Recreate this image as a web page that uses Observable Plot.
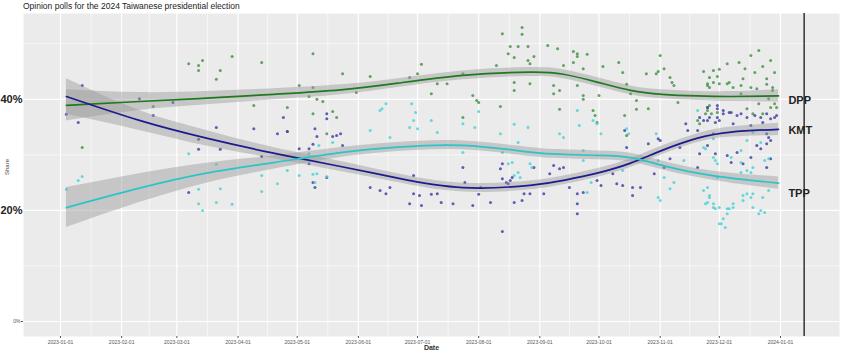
<!DOCTYPE html>
<html><head><meta charset="utf-8">
<script src="https://cdn.jsdelivr.net/npm/d3@7"></script>
<script src="https://cdn.jsdelivr.net/npm/@observablehq/plot@0.6"></script>
<style>
body{margin:0;background:#fff;font-family:"Liberation Sans",Arial,sans-serif}
#title{height:12px;line-height:12px;font-size:8.5px;padding-left:23px;color:#222;white-space:nowrap}
</style></head><body>
<div id="title">Opinion polls for the 2024 Taiwanese presidential election</div>
<div id="chart"></div>
<script>
// Days counted from 2023-01-01, share in percent
const startDate = "2023-01-01";
const electionDate = "2024-01-13";
const parties = ["DPP", "KMT", "TPP"];
const lineColors = ["#1F7A1F", "#1C1C8E", "#2BC4C8"];
const pointColors = ["#3E8E3E", "#3A3AA6", "#45D2D4"];
const monthTicks = ["2023-01-01","2023-02-01","2023-03-01","2023-04-01","2023-05-01","2023-06-01","2023-07-01","2023-08-01","2023-09-01","2023-10-01","2023-11-01","2023-12-01","2024-01-01"];
const yMajor = [0, 20, 40];
const yMinor = [10, 30, 50];

const dppPolls = [[65,46.4],[70,46.1],[72,47.0],[70,45.2],[81,45.2],[87,47.7],[79,43.6],[102,46.6],[128,48.2],[121,42.5],[128,42.1],[126,40.5],[130,40.0],[133,39.6],[115,38.5],[98,38.9],[128,37.4],[138,37.8],[140,36.7],[135,33.8],[11,31.3],[47,38.7],[115,34.2],
[143,44.6],[157,44.1],[150,41.2],[177,43.9],[181,44.6],[183,46.3],[188,41.0],[191,42.8],[196,42.8],[204,44.6],[209,40.7],[211,39.8],[212,39.4],[204,36.7],[223,38.7],[221,46.1],[224,51.8],[234,52.9],[234,51.7],[228,49.5],[232,49.5],[237,49.5],[227,48.2],[230,47.5],[237,47.0],[238,46.4],[240,47.7],[230,43.0],[230,41.6],[238,42.8],[247,49.7],[252,49.1],[255,46.1],[260,48.6],[262,48.2],[262,47.7],[267,48.1],[260,46.6],[265,45.5],[250,42.5],[253,41.6],[250,41.0],[262,42.5],[265,40.7],[265,40.0],[275,45.9],[273,40.7],[253,38.2],[270,38.0],[271,37.1],[272,35.8],[283,46.6],[285,44.8],[287,42.7],[289,41.0],[292,39.8],[292,38.2],[286,37.1],[287,33.5],[297,44.6],[302,44.6],[303,45.0],[306,45.5],[304,47.9],[309,43.9],[310,43.0],[311,42.5],[313,39.4],[298,38.3],[326,45.0],[329,43.9],[331,45.2],[333,44.1],[334,45.4],[338,46.4],[328,42.8],[329,42.1],[328,38.5],[328,38.0],[323,36.2],[324,35.6],[334,42.8],[339,43.0],
[328,42.5],[331,43.0],[338,42.8],[341,42.1],[345,42.5],[350,42.1],[353,41.9],[358,42.7],[361,42.1],[361,41.6],[359,40.1],[362,39.2],[360,38.5],[363,38.5],[354,39.2],[348,38.3],[351,37.4],[356,37.4],[345,41.0],[329,38.9],[327,37.4],[330,37.4],[333,37.6],
[344,46.6],[347,45.5],[350,47.9],[352,44.8],[356,45.9],[360,47.0],[362,44.8],[346,43.7],[354,48.8],[358,43.7]];

const kmtPolls = [[11,42.5],[3,37.3],[9,35.8],[40,40.1],[57,39.4],[47,37.1],[79,34.9],[70,32.8],[70,31.0],[81,31.0],[98,34.7],[113,36.7],[110,33.8],[115,34.2],[102,29.7],[121,31.1],[126,31.1],[128,31.9],[129,34.7],[130,33.3],[135,37.4],[135,36.5],[138,33.3],[126,28.4],[65,23.2],[128,25.0],[129,24.1],[135,25.9],
[142,33.8],[143,31.7],[140,33.5],[157,24.1],[162,23.6],[165,23.0],[167,24.1],[177,21.2],[179,23.0],[182,22.7],[188,22.9],[191,23.0],[193,21.4],[179,26.3],[183,20.9],[199,21.2],[204,27.7],[205,25.0],[209,20.9],[212,22.9],[213,24.1],[218,21.4],[223,27.5],[224,28.4],[224,25.7],[226,25.0],[227,24.8],[228,25.4],[229,25.9],[230,21.4],[234,21.8],[235,23.0],[238,23.0],[240,27.7],[245,23.0],[248,26.6],[250,28.1],[253,27.5],[255,27.7],[258,24.1],[262,23.0],[262,21.2],[265,23.2],[262,19.4],[272,25.4],[274,24.5],[280,26.6],[282,24.8],[285,24.5],[286,34.4],[287,31.3],[290,22.7],[290,24.1],[294,24.1],[298,32.0],[303,32.9],[304,32.6],[301,26.6],[306,27.7],[309,29.3],[314,31.3],[317,35.6],[318,34.4],[323,34.4],[324,36.7],[326,36.2],[328,36.2],[329,36.7],[332,35.8],[333,36.7],[336,37.4],[339,37.6],[333,38.9],[323,27.7],[324,30.2],[328,31.7],[332,30.2],[338,29.9],[224,16.2],
[328,38.5],[333,38.3],[336,38.0],[340,37.6],[343,37.1],[345,37.4],[348,36.7],[352,37.1],[355,36.7],[358,37.4],[360,36.5],[362,36.7],[363,37.1],[334,36.2],[341,35.6],[350,35.3],[356,35.8],[358,33.8],[359,33.1],[360,32.6],[358,32.0],[355,31.1],[360,29.3],[358,27.7],[350,29.5],[343,30.4],[340,28.6],[346,28.4],[353,31.7],[331,33.8]];

const tppPolls = [[3,23.8],[11,26.1],[9,25.4],[65,30.2],[79,28.3],[70,23.8],[81,23.9],[70,21.2],[79,21.4],[72,20.0],[87,21.1],[102,26.3],[102,23.4],[110,24.8],[115,27.2],[121,26.3],[126,30.2],[128,26.5],[130,26.6],[129,25.0],[131,31.7],[135,26.1],[138,32.2],
[157,34.4],[162,38.0],[163,38.3],[165,39.2],[167,33.1],[177,34.9],[178,39.2],[179,36.2],[180,37.6],[181,34.7],[188,36.2],[191,34.0],[204,35.6],[210,34.9],[212,37.8],[204,30.4],[223,33.8],[224,30.4],[227,28.4],[229,28.6],[230,26.3],[232,26.8],[233,25.9],[230,35.5],[237,34.9],[238,28.4],[239,27.7],[232,32.2],[253,33.8],[255,33.1],[262,38.0],[263,35.3],[265,30.8],[265,29.0],[267,23.2],[269,25.0],[270,36.2],[272,35.6],[274,33.8],[285,27.2],[287,34.7],[288,33.8],[302,33.8],[303,29.0],[304,21.8],[303,22.3],[306,25.9],[309,23.9],[311,25.0],[323,38.0],[326,31.3],[331,29.5],[333,28.4],[328,24.1],[329,22.7],[328,21.4],[331,21.2],[332,20.3],[334,20.5],[336,18.5],[335,17.6],[338,19.4],[339,20.3],[316,29.0],
[331,32.9],[327,31.1],[332,29.0],[340,29.5],[345,28.6],[351,27.7],[350,26.8],[357,29.0],[359,29.3],[355,32.2],[351,34.0],[348,32.6],[345,30.8],[326,23.6],[329,22.3],[327,21.2],[331,20.5],[338,20.3],[341,21.2],[346,22.7],[348,23.0],[350,22.3],[346,21.8],[351,20.5],[354,19.4],[355,20.0],[357,19.6],[334,17.6],[337,16.9],[341,20.5],[351,23.0],[356,22.3],[359,23.6],[333,25.9],[345,26.8],[348,27.2]];

// Smoothed trend and half-width of its band
const smoothDays = [3, 40, 74, 108, 142, 171, 204, 238, 255, 272, 289, 305, 323, 340, 364];
const dppSmooth = [38.9, 39.6, 40.2, 40.9, 41.7, 42.9, 44.3, 44.9, 44.5, 43.1, 41.6, 40.9, 40.6, 40.5, 40.6];
const kmtSmooth = [40.5, 36.2, 33.0, 30.3, 27.9, 25.8, 24.1, 24.5, 25.4, 26.7, 28.5, 30.8, 33.0, 34.1, 34.6];
const tppSmooth = [20.5, 24.0, 26.7, 28.6, 30.4, 31.4, 31.7, 30.5, 30.1, 29.9, 29.5, 28.1, 26.7, 25.8, 24.9];
const dppBand = [2.8, 1.6, 1.2, 1.0, 0.9, 0.8, 0.8, 0.8, 0.8, 0.8, 0.8, 0.8, 0.8, 0.9, 1.1];
const kmtBand = [3.2, 1.8, 1.4, 1.0, 0.9, 0.8, 0.8, 0.8, 0.8, 0.8, 0.8, 0.8, 0.8, 0.9, 1.1];
const tppBand = [3.6, 2.6, 1.8, 1.2, 0.9, 0.8, 0.8, 0.8, 0.8, 0.8, 0.8, 0.8, 0.8, 0.9, 1.1];

const labelDay = 369;
const labelShare = [39.8, 34.4, 23.0];

// ---- build tables ----
const t0 = new Date(startDate + "T00:00Z");
const toDate = d => d3.utcDay.offset(t0, d);
const pollSets = [dppPolls, kmtPolls, tppPolls];
const smoothSets = [dppSmooth, kmtSmooth, tppSmooth];
const bandSets = [dppBand, kmtBand, tppBand];

const points = pollSets.flatMap((set, i) => set.map(([d, v]) => ({party: parties[i], date: toDate(d), share: v})));
const smooth = smoothSets.flatMap((s, i) => s.map((v, j) => ({party: parties[i], date: toDate(smoothDays[j]), share: v, lo: v - bandSets[i][j], hi: v + bandSets[i][j]})));
const labels = parties.map((p, i) => ({party: p, date: toDate(labelDay), share: labelShare[i]}));

const tickDates = monthTicks.map(s => new Date(s + "T00:00Z"));
const minorX = d3.pairs(tickDates).map(([a, b]) => new Date((+a + +b) / 2));

const colorOf = p => pointColors[parties.indexOf(p)];
const lineOf = p => lineColors[parties.indexOf(p)];

const chart = Plot.plot({
  width: 844,
  height: 342,
  marginLeft: 23,
  marginRight: 5,
  marginTop: 1,
  marginBottom: 18,
  style: {fontFamily: "'Liberation Sans', Arial, sans-serif", background: "white"},
  x: {type: "utc", domain: [new Date("2022-12-13T06:00Z"), new Date("2024-01-30T22:00Z")]},
  y: {domain: [-2.7, 55.44]},
  marks: [
    Plot.frame({fill: "#EBEBEB", stroke: null}),
    Plot.ruleY(yMinor, {stroke: "white", strokeWidth: 0.6}),
    Plot.ruleX(minorX, {stroke: "white", strokeWidth: 0.6}),
    Plot.ruleY(yMajor, {stroke: "white", strokeWidth: 1.2}),
    Plot.ruleX(tickDates, {stroke: "white", strokeWidth: 1.2}),
    Plot.dot(points, {x: "date", y: "share", r: 1.5, fill: d => colorOf(d.party), fillOpacity: 0.8, stroke: null}),
    ...parties.map(p => Plot.areaY(smooth.filter(d => d.party === p), {x: "date", y1: "lo", y2: "hi", fill: "#999999", fillOpacity: 0.45, curve: "natural"})),
    ...parties.map(p => Plot.lineY(smooth.filter(d => d.party === p), {x: "date", y: "share", stroke: lineOf(p), strokeWidth: 1.7, curve: "natural"})),
    Plot.ruleX([new Date(electionDate + "T00:00Z")], {stroke: "#333", strokeWidth: 1.5}),
    Plot.text(labels, {x: "date", y: "share", text: "party", textAnchor: "start", fontSize: 11, fontWeight: "bold", fill: "#222"}),
    Plot.axisX({ticks: tickDates, tickFormat: d3.utcFormat("%Y-%m-%d"), tickSize: 2, tickPadding: 1.5, fontSize: 5, fill: "#555", stroke: "#555", label: null}),
    Plot.axisY({ticks: [0], tickFormat: d => d + "%", tickSize: 2, tickPadding: 1, fontSize: 5, fill: "#555", stroke: "#555", label: null}),
    Plot.axisY({ticks: [20, 40], tickFormat: d => d + "%", tickSize: 0, tickPadding: 1, fontSize: 11, fontWeight: "bold", fill: "#222", label: null}),
    Plot.text(["Date"], {frameAnchor: "bottom", dy: 13, fontSize: 7, fontWeight: 600, fill: "#333"}),
    Plot.text(["Share"], {frameAnchor: "left", dx: -16, rotate: -90, fontSize: 6, fill: "#444"})
  ]
});
document.getElementById("chart").appendChild(chart);
</script></body></html>
